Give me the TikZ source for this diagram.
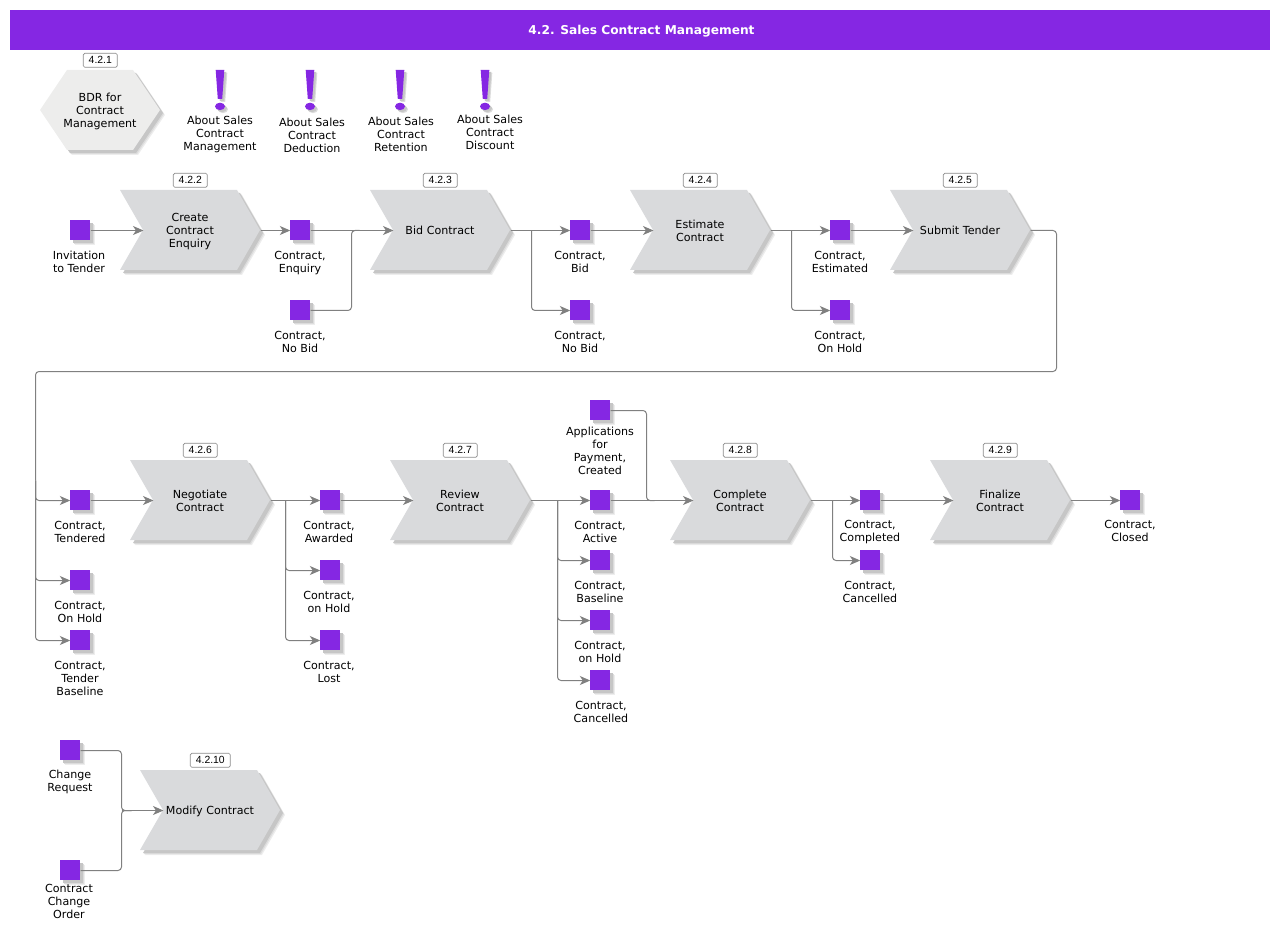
\documentclass[tikz,border=0pt]{standalone}
\usepackage{fontspec}
\setmainfont{DejaVu Sans}
\newfontfamily\badgefont{Liberation Sans}
\usetikzlibrary{shadows,arrows.meta}
\definecolor{vio}{HTML}{8527E3}
\definecolor{procgray}{HTML}{D9DADC}
\definecolor{hexgray}{HTML}{EDEDEC}
\definecolor{shadA}{HTML}{EDEDED}
\definecolor{shadB}{HTML}{DCDCDC}
\definecolor{shadC}{HTML}{C6C6C6}
\definecolor{linegray}{HTML}{808080}
\tikzset{
  softshadow/.style={general shadow={fill=shadA,shadow xshift=5pt,shadow yshift=-5pt},general shadow={fill=shadB,shadow xshift=4pt,shadow yshift=-4pt},general shadow={fill=shadC,shadow xshift=3pt,shadow yshift=-3pt}},
  smallshadow/.style={general shadow={fill=shadB,shadow xshift=3pt,shadow yshift=-3pt},general shadow={fill=shadC,shadow xshift=2pt,shadow yshift=-2pt}},
  statebox/.style={fill=vio,minimum size=20pt,inner sep=0pt,softshadow},
  lbl/.style={font=\fontsize{11.1}{13}\selectfont,align=center,inner sep=0pt,text=black,yshift=-1.2pt},
  badge/.style={draw=black!45,fill=white,rounded corners=1.5pt,line width=0.7pt,minimum height=14pt,inner sep=0pt,font=\badgefont\fontsize{10.4}{11}\selectfont,xshift=0.3pt,yshift=-0.3pt},
  conn/.style={draw=linegray,line width=1pt,rounded corners=3.5pt,transform canvas={shift={(0.5pt,-0.5pt)}}},
  arr/.style={conn,-{Stealth[length=10.5pt,width=9pt,inset=3pt,fill=linegray]}},
}
\newcommand{\procbox}[7]{% name,x,y,text,badge,badgewidth,texty
  \begin{scope}[shift={(#2,#3)}]
    \path[fill=procgray,softshadow] (0,0) -- (117,0) -- (140,40) -- (117,80) -- (0,80) -- (23,40) -- cycle;
    \coordinate (#1in) at (23,40);
    \coordinate (#1out) at (140,40);
    \node[lbl] (#1) at (70,#7) {#4};
    \node[badge,minimum width=#6pt] (#1b) at (70,-10) {#5};
  \end{scope}}
\newcommand{\statenode}[6]{% name,x,y,lx,ly,text
  \node[statebox] (#1) at (#2,#3) {};
  \node[lbl] (#1t) at (#4,#5) {#6};}
\newcommand{\excl}[4]{% name,x,labelx,labely
  \begin{scope}[shift={(#2,70)}]
    \path[fill=vio,smallshadow] (-4.3,0) -- (4.3,0) -- (2.2,29) -- (-2.2,29) -- cycle;
    \path[fill=vio,smallshadow] (0,36.4) ellipse (5 and 3.7);
  \end{scope}
  \node[lbl] (#1) at (#3,#4) {About Sales\\Contract\\\exclname};}
\newcommand{\exclname}{}
\begin{document}
\begin{tikzpicture}[x=1pt,y=-1pt]
\useasboundingbox (0,0) rectangle (1280,925);
\fill[vio] (10,10) rectangle (1270,50);
\node[font=\bfseries\fontsize{12.2}{14}\selectfont,text=white,inner sep=0pt] (title) at (641.5,31) {4.2. Sales Contract Management};

% hexagon
\path[fill=hexgray,softshadow] (40,110) -- (67,70) -- (133,70) -- (160,110) -- (133,150) -- (67,150) -- cycle;
\node[lbl] (hex) at (100,110) {BDR for\\Contract\\Management};
\node[badge,minimum width=34pt] (hexb) at (100,60) {4.2.1};

% notes
\renewcommand{\exclname}{Management}\excl{n1}{220}{220}{133}
\renewcommand{\exclname}{Deduction}\excl{n2}{310}{312}{134}
\renewcommand{\exclname}{Retention}\excl{n3}{400}{401}{133}
\renewcommand{\exclname}{Discount}\excl{n4}{485}{490}{131}

% processes
\procbox{pa}{120}{190}{Create\\Contract\\Enquiry}{4.2.2}{34}{40}
\procbox{pb}{370}{190}{Bid Contract}{4.2.3}{34}{39}
\procbox{pc}{630}{190}{Estimate\\Contract}{4.2.4}{34}{40}
\procbox{pd}{890}{190}{Submit Tender}{4.2.5}{34}{39}
\procbox{pe}{130}{460}{Negotiate\\Contract}{4.2.6}{34}{40}
\procbox{pf}{390}{460}{Review\\Contract}{4.2.7}{34}{40}
\procbox{pg}{670}{460}{Complete\\Contract}{4.2.8}{34}{40}
\procbox{ph}{930}{460}{Finalize\\Contract}{4.2.9}{34}{40}
\procbox{pi}{140}{770}{Modify Contract}{4.2.10}{40}{40}

% states
\statenode{sa}{80}{230}{79}{260.5}{Invitation\\to Tender}
\statenode{sb}{300}{230}{300}{261.5}{Contract,\\Enquiry}
\statenode{sc}{300}{310}{300}{341}{Contract,\\No Bid}
\statenode{sd}{580}{230}{580}{260.5}{Contract,\\Bid}
\statenode{se}{580}{310}{580}{341}{Contract,\\No Bid}
\statenode{sf}{840}{230}{840}{261}{Contract,\\Estimated}
\statenode{sg}{840}{310}{840}{341}{Contract,\\On Hold}
\statenode{sh}{80}{500}{80}{531}{Contract,\\Tendered}
\statenode{si}{80}{580}{80}{611}{Contract,\\On Hold}
\statenode{sj}{80}{640}{80}{677}{Contract,\\Tender\\Baseline}
\statenode{sk}{330}{500}{329}{531}{Contract,\\Awarded}
\statenode{sl}{330}{570}{329}{601}{Contract,\\on Hold}
\statenode{sm}{330}{640}{329}{671}{Contract,\\Lost}
\statenode{sn}{600}{410}{600}{449.5}{Applications\\for\\Payment,\\Created}
\statenode{so}{600}{500}{600}{531}{Contract,\\Active}
\statenode{sp}{600}{560}{600}{591}{Contract,\\Baseline}
\statenode{sq}{600}{620}{600}{651}{Contract,\\on Hold}
\statenode{sr}{600}{680}{601}{711}{Contract,\\Cancelled}
\statenode{ss}{870}{500}{870}{531}{Contract,\\Completed}
\statenode{st}{870}{560}{870}{591}{Contract,\\Cancelled}
\statenode{su}{1130}{500}{1130}{530}{Contract,\\Closed}
\statenode{sv}{70}{750}{70}{781}{Change\\Request}
\statenode{sw}{70}{870}{69}{900}{Contract\\Change\\Order}

% junctions
\coordinate (j1) at (351,230);
\coordinate (j2) at (531,230);
\coordinate (j3) at (791,230);
\coordinate (j4a) at (1056,230);
\coordinate (j4b) at (1056,371);
\coordinate (j4c) at (35,371);
\coordinate (j4d) at (35,480);
\coordinate (j5) at (285,500);
\coordinate (j6) at (557,500);
\coordinate (j7) at (646,500);
\coordinate (j7t) at (646,410);
\coordinate (j8) at (832,500);
\coordinate (j9) at (121,810);

% connectors
\draw[arr] (sa.east) -- (pain);
\draw[arr] (paout) -- (sb.west);
\draw[arr] (sb.east) -- (pbin);
\draw[conn] (sc.east) -| (j1) -- ++(8,0);
\draw[arr] (pbout) -- (sd.west);
\draw[arr] (j2) |- (se.west);
\draw[arr] (sd.east) -- (pcin);
\draw[arr] (pcout) -- (sf.west);
\draw[arr] (j3) |- (sg.west);
\draw[arr] (sf.east) -- (pdin);
\draw[conn] (pdout) -- (j4a) -- (j4b) -- (j4c) -- (j4d);
\draw[arr] (j4d) |- (sh.west);
\draw[arr] (j4d) |- (si.west);
\draw[arr] (j4d) |- (sj.west);
\draw[arr] (sh.east) -- (pein);
\draw[arr] (peout) -- (sk.west);
\draw[arr] (j5) |- (sl.west);
\draw[arr] (j5) |- (sm.west);
\draw[arr] (sk.east) -- (pfin);
\draw[arr] (pfout) -- (so.west);
\draw[arr] (j6) |- (sp.west);
\draw[arr] (j6) |- (sq.west);
\draw[arr] (j6) |- (sr.west);
\draw[conn] (sn.east) -- (j7t) -- (j7) -- ++(8,0);
\draw[arr] (so.east) -- (pgin);
\draw[arr] (pgout) -- (ss.west);
\draw[arr] (j8) |- (st.west);
\draw[arr] (ss.east) -- (phin);
\draw[arr] (phout) -- (su.west);
\draw[conn] (sv.east) -| (j9) -- ++(10,0);
\draw[conn] (sw.east) -| (j9) -- ++(10,0);
\draw[arr] (j9) -- (piin);
\end{tikzpicture}
\end{document}
